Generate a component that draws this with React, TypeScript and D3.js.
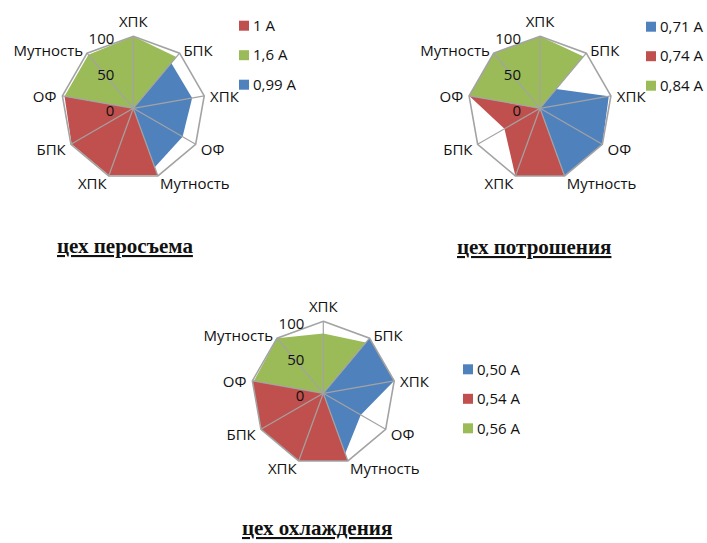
import * as d3 from "d3";
import React from "react";

// axes around the web, clockwise from the top
const AXES = ["ХПК", "БПК", "ХПК", "ОФ", "Мутность", "ХПК", "БПК", "ОФ", "Мутность"];
const RADIAL_TICKS = [0, 50, 100];

// цех перосъема
const perosemNames = ["1 А", "1,6 А", "0,99 А"];
const perosem1A = [0, 0, 0, 0, 99, 99, 99, 97, 0];
const perosem16A = [100, 93, 0, 0, 0, 0, 0, 97, 97];
const perosem099A = [0, 82, 83, 79, 87, 0, 0, 0, 0];

// цех потрошения
const potroshNames = ["0,71 А", "0,74 А", "0,84 А"];
const potrosh071A = [0, 35, 97, 100, 100, 0, 0, 0, 0];
const potrosh074A = [0, 0, 0, 0, 100, 100, 57, 100, 0];
const potrosh084A = [100, 94, 0, 0, 0, 0, 0, 100, 100];

// цех охлаждения
const ohlazhNames = ["0,50 А", "0,54 А", "0,56 А"];
const ohlazh050A = [0, 100, 100, 60, 89, 0, 0, 0, 0];
const ohlazh054A = [0, 0, 0, 0, 100, 100, 100, 100, 0];
const ohlazh056A = [83, 92, 0, 0, 0, 0, 0, 98, 100];

const RED = "#C0504D";
const GREEN = "#9BBB59";
const BLUE = "#4F81BD";
const GRID = "#A3A3A3";
const FONT = "'Open Sans', sans-serif";
const INK = "#111";

type Series = { name: string; color: string; values: number[] };

const R = 72;

const Radar: React.FC<{
  cx: number;
  cy: number;
  series: Series[];
  legendX: number;
  legendY: number;
}> = ({ cx, cy, series, legendX, legendY }) => {
  const rScale = d3.scaleLinear().domain([0, 100]).range([0, R]);
  const step = (2 * Math.PI) / AXES.length;

  const radial = d3
    .lineRadial<number>()
    .angle((d, i) => i * step)
    .radius(d => rScale(d))
    .curve(d3.curveLinearClosed);

  return (
    <g>
      <g transform={`translate(${cx},${cy})`}>
        {series.map(s => (
          <path key={s.name} d={radial(s.values)!} fill={s.color} stroke="none" />
        ))}
        {AXES.map((a, i) => {
          const t = i * step;
          return (
            <line
              key={i}
              x2={rScale(100) * Math.sin(t)}
              y2={-rScale(100) * Math.cos(t)}
              stroke={GRID}
              strokeWidth={1.2}
            />
          );
        })}
        <path d={radial(AXES.map(() => 100))!} fill="none" stroke={GRID} strokeWidth={1.6} />

        {RADIAL_TICKS.map(v => (
          <text
            key={v}
            x={-19}
            y={-rScale(v) + 2}
            dy="0.35em"
            textAnchor="end"
            fontSize={15}
            fontFamily={FONT}
            fill={INK}
          >
            {v}
          </text>
        ))}

        {AXES.map((a, i) => {
          const t = i * step;
          const s = Math.sin(t);
          const c = Math.cos(t);
          const rr = R + 6;
          const anchor = s > 0.2 ? "start" : s < -0.2 ? "end" : "middle";
          const top = c > 0.9;
          return (
            <text
              key={i}
              x={rr * s}
              y={top ? -rr * c - 3 : -rr * c + 2}
              dy={top ? "0" : "0.35em"}
              textAnchor={anchor}
              fontSize={15}
              fontFamily={FONT}
              fill={INK}
            >
              {a}
            </text>
          );
        })}
      </g>

      {series.map((s, i) => (
        <g key={s.name} transform={`translate(${legendX},${legendY + i * 29.5})`}>
          <rect x={0} y={-5} width={10} height={10} fill={s.color} />
          <text x={14} y={0} dy="0.35em" fontSize={15} fontFamily={FONT} fill={INK}>
            {s.name}
          </text>
        </g>
      ))}
    </g>
  );
};

const Title: React.FC<{ x: number; y: number; text: string }> = ({ x, y, text }) => (
  <text
    x={x}
    y={y}
    fontSize={21}
    fontWeight="bold"
    fontFamily="'Liberation Serif', 'Times New Roman', serif"
    fill="#111"
    style={{ textDecoration: "underline" }}
  >
    {text}
  </text>
);

export default function App() {
  return (
    <svg
      width={707}
      height={543}
      style={{ position: "absolute", left: 0, top: 0, background: "#fff" }}
    >
      <Radar
        cx={133.3}
        cy={108.3}
        legendX={239}
        legendY={25.7}
        series={[
          { name: perosemNames[0], color: RED, values: perosem1A },
          { name: perosemNames[1], color: GREEN, values: perosem16A },
          { name: perosemNames[2], color: BLUE, values: perosem099A }
        ]}
      />
      <Radar
        cx={540}
        cy={108.3}
        legendX={646}
        legendY={26.7}
        series={[
          { name: potroshNames[0], color: BLUE, values: potrosh071A },
          { name: potroshNames[1], color: RED, values: potrosh074A },
          { name: potroshNames[2], color: GREEN, values: potrosh084A }
        ]}
      />
      <Radar
        cx={323.3}
        cy={393.3}
        legendX={463}
        legendY={369.3}
        series={[
          { name: ohlazhNames[0], color: BLUE, values: ohlazh050A },
          { name: ohlazhNames[1], color: RED, values: ohlazh054A },
          { name: ohlazhNames[2], color: GREEN, values: ohlazh056A }
        ]}
      />

      <Title x={57} y={253} text="цех перосъема" />
      <Title x={457} y={254} text="цех потрошения" />
      <Title x={242} y={535} text="цех охлаждения" />
    </svg>
  );
}
